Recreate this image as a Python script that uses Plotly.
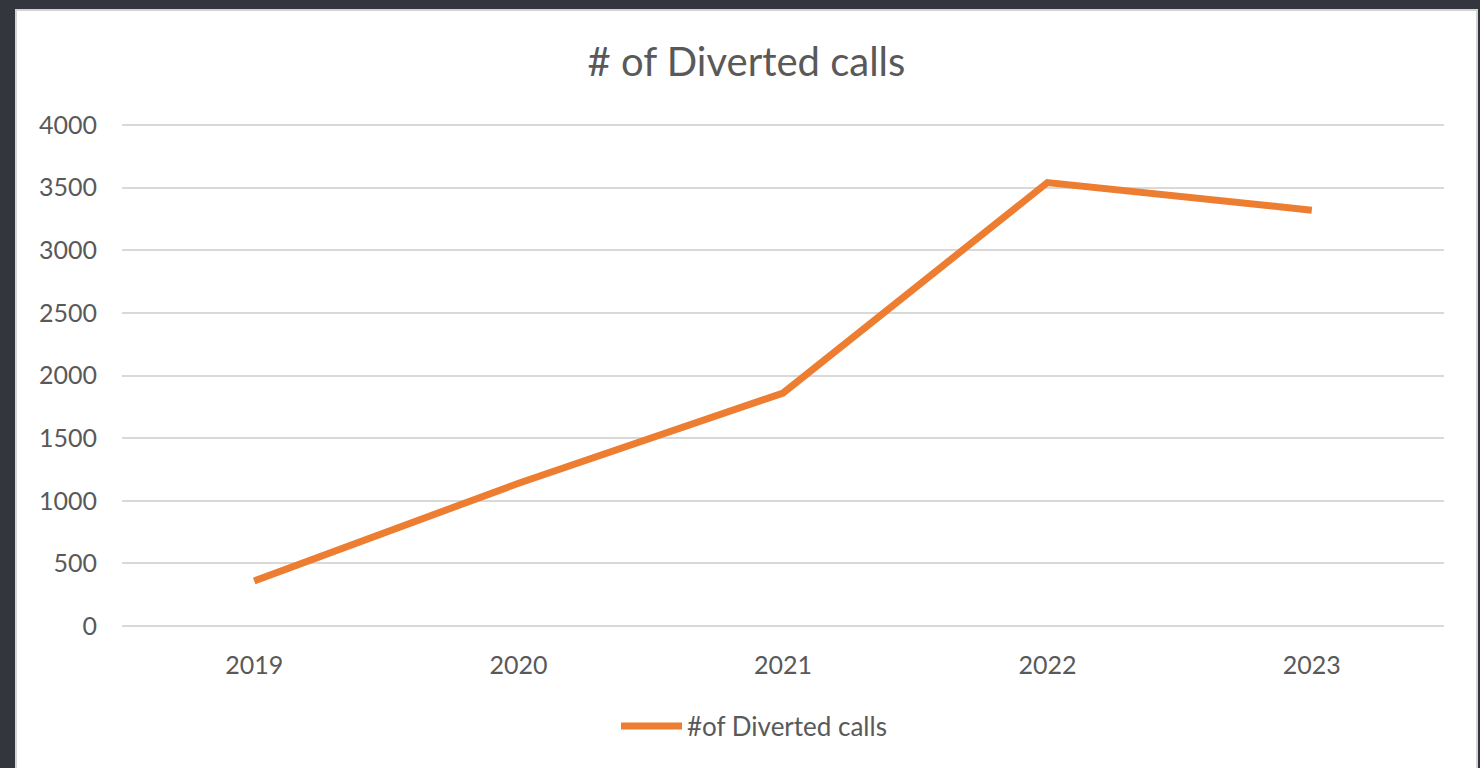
import plotly.graph_objects as go

# Yearly counts of diverted calls
years = ["2019", "2020", "2021", "2022", "2023"]
diverted_calls = [360, 1140, 1860, 3540, 3320]
series_name = "#of Diverted calls"
chart_title = "# of Diverted calls"
y_ticks = [0, 500, 1000, 1500, 2000, 2500, 3000, 3500, 4000]

W, H = 1480, 768
ML, MR, MT, MB = 122, 36, 120, 142
PW, PH = W - ML - MR, H - MT - MB
CARD_L, CARD_R, CARD_T = 16, 1477, 10
# a little headroom above 4000 so its gridline is not clipped at the edge
Y_TOP = 4000 * PH / (PH - 5)

def px_x(x):
    return (x - ML) / PW

def px_y(y):
    return (H - MB - y) / PH

TEXT = "#595959"
ORANGE = "#ED7D31"
FONT = "Lato, Open Sans, sans-serif"

fig = go.Figure()
fig.add_trace(go.Scatter(
    x=years, y=diverted_calls, mode="lines", name=series_name,
    line=dict(color=ORANGE, width=7), showlegend=False,
))

# white chart card on a dark backdrop
fig.add_shape(type="rect", xref="paper", yref="paper", layer="below",
              x0=px_x(CARD_L), x1=px_x(CARD_R), y0=px_y(H + 5), y1=px_y(CARD_T),
              fillcolor="white", line=dict(color="#d4d4d4", width=2))

# legend key: line sample plus series name
fig.add_shape(type="line", xref="paper", yref="paper",
              x0=px_x(621), x1=px_x(682), y0=px_y(726), y1=px_y(726),
              line=dict(color=ORANGE, width=7))
fig.add_annotation(xref="paper", yref="paper", x=px_x(685), y=px_y(726),
                   text=series_name, showarrow=False, xanchor="left", yanchor="middle",
                   font=dict(family=FONT, size=26, color=TEXT))

fig.update_layout(
    width=W, height=H,
    margin=dict(l=ML, r=MR, t=MT, b=MB, pad=0),
    paper_bgcolor="#33363c", plot_bgcolor="rgba(0,0,0,0)",
    title=dict(text=chart_title, x=(CARD_L + CARD_R) / 2 / W, xref="container",
               xanchor="center", y=1 - 62 / H, yref="container", yanchor="middle",
               font=dict(family=FONT, size=40, color=TEXT)),
    font=dict(family=FONT, size=25, color=TEXT),
    showlegend=False,
)
fig.update_xaxes(type="category", range=[-0.5, 4.5], showgrid=False, showline=False,
                 ticks="outside", ticklen=17, tickcolor="rgba(0,0,0,0)",
                 tickfont=dict(family=FONT, size=25, color=TEXT), fixedrange=True)
fig.update_yaxes(range=[0, Y_TOP], tickvals=y_ticks, showgrid=True, gridcolor="#d9d9d9",
                 gridwidth=2, zeroline=True, zerolinecolor="#d9d9d9", zerolinewidth=2,
                 showline=False, ticks="outside", ticklen=19, tickcolor="rgba(0,0,0,0)",
                 tickfont=dict(family=FONT, size=25, color=TEXT), fixedrange=True)

fig.write_html("out.html")
